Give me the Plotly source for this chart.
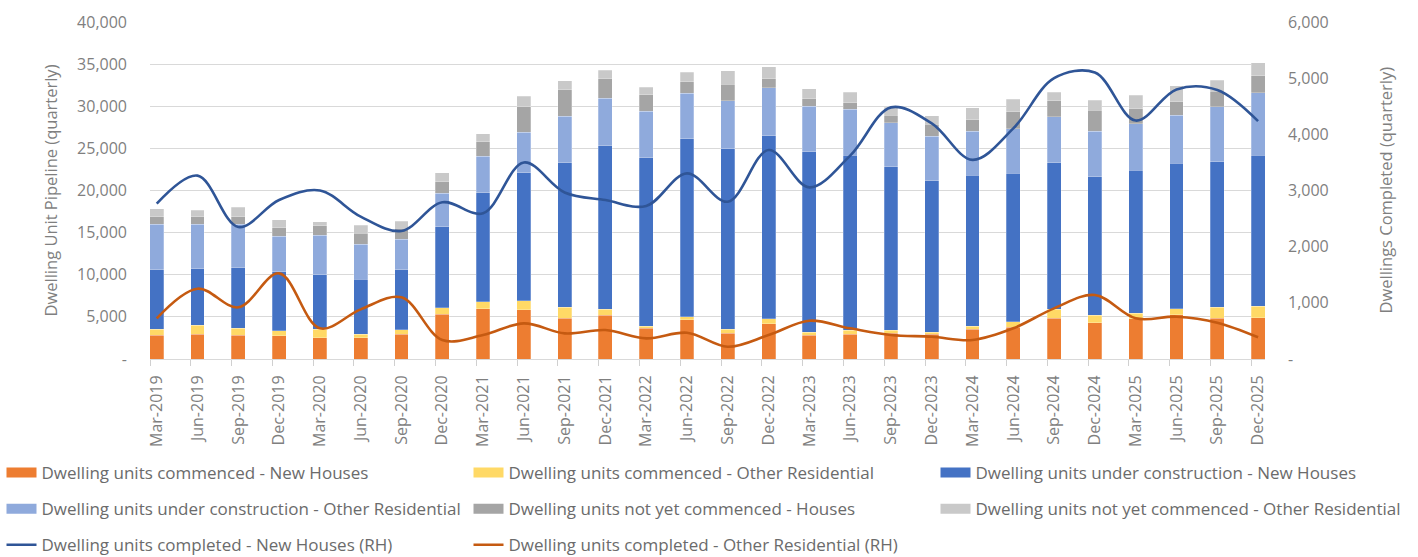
import plotly.graph_objects as go

quarters = [
    "Mar-2019", "Jun-2019", "Sep-2019", "Dec-2019",
    "Mar-2020", "Jun-2020", "Sep-2020", "Dec-2020",
    "Mar-2021", "Jun-2021", "Sep-2021", "Dec-2021",
    "Mar-2022", "Jun-2022", "Sep-2022", "Dec-2022",
    "Mar-2023", "Jun-2023", "Sep-2023", "Dec-2023",
    "Mar-2024", "Jun-2024", "Sep-2024", "Dec-2024",
    "Mar-2025", "Jun-2025", "Sep-2025", "Dec-2025",
]

# Pipeline components (left axis, stacked)
commenced_houses = [2810, 2930, 2810, 2770, 2530, 2530, 2930, 5340, 5970, 5850, 4830, 5220, 3640, 4665,
                    3045, 4190, 2815, 2930, 3050, 2930, 3520, 3760, 4865, 4275, 4750, 5260, 4830, 4905]
commenced_other = [750, 1105, 865, 590, 990, 400, 550, 750, 830, 1035, 1340, 715, 275, 360,
                   475, 560, 390, 470, 390, 235, 395, 670, 1030, 910, 670, 710, 1305, 1350]
uc_houses = [7040, 6685, 7160, 7005, 6490, 6530, 7120, 9615, 12940, 15230, 17130, 19385, 19980, 21125,
             21445, 21755, 21400, 20775, 19390, 18000, 17885, 17610, 17370, 16455, 16975, 17260, 17285, 17920]
uc_other = [5385, 5265, 5180, 4195, 4670, 4150, 3605, 3960, 4320, 4790, 5540, 5620, 5540, 5420,
            5660, 5700, 5385, 5460, 5220, 5265, 5260, 5300, 5495, 5385, 5500, 5695, 6530, 7435]
nyc_houses = [910, 910, 875, 1030, 1145, 1310, 1305, 1380, 1735, 3045, 3125, 2330, 1940, 1345,
              2015, 1065, 910, 790, 910, 1425, 1345, 2015, 1900, 2530, 1815, 1615, 1825, 2020]
nyc_other = [910, 790, 1105, 950, 475, 985, 870, 1070, 950, 1265, 1070, 995, 910, 1115,
             1580, 1425, 1185, 1230, 910, 1025, 1425, 1505, 1030, 1185, 1625, 1865, 1340, 1540]

# Completions (right axis)
completed_houses = [2765, 3265, 2350, 2830, 3000, 2535, 2280, 2790, 2595, 3500, 2965, 2830, 2725, 3305,
                    2800, 3720, 3055, 3620, 4480, 4195, 3545, 4105, 5000, 5100, 4245, 4800, 4790, 4235]
completed_other = [724, 1252, 920, 1525, 546, 884, 1098, 338, 427, 635, 457, 516, 368, 468,
                   219, 427, 682, 546, 427, 397, 338, 546, 902, 1140, 724, 753, 646, 386]

left_ticks = [0, 5000, 10000, 15000, 20000, 25000, 30000, 35000, 40000]
left_ticktext = ["-", "5,000", "10,000", "15,000", "20,000", "25,000", "30,000", "35,000", "40,000"]
right_ticks = [0, 1000, 2000, 3000, 4000, 5000, 6000]
right_ticktext = ["-", "1,000", "2,000", "3,000", "4,000", "5,000", "6,000"]

FONT = "Open Sans"
TICK_GREY = "#7f7f7f"
TEXT_GREY = "#6b6b6b"
W, H = 1418, 557

x = list(range(len(quarters)))

bar_series = [
    ("Dwelling units commenced - New Houses", commenced_houses, "#ED7D31", "legend"),
    ("Dwelling units commenced - Other Residential", commenced_other, "#FFD966", "legend2"),
    ("Dwelling units under construction - New Houses", uc_houses, "#4472C4", "legend3"),
    ("Dwelling units under construction - Other Residential", uc_other, "#8FAADC", "legend"),
    ("Dwelling units not yet commenced - Houses", nyc_houses, "#A5A5A5", "legend2"),
    ("Dwelling units not yet commenced - Other Residential", nyc_other, "#C9C9C9", "legend3"),
]
line_series = [
    ("Dwelling units completed - New Houses (RH)", completed_houses, "#2F5597", "legend"),
    ("Dwelling units completed - Other Residential (RH)", completed_other, "#C55A11", "legend2"),
]

fig = go.Figure()
for name, vals, color, leg in bar_series:
    fig.add_trace(go.Bar(
        x=x, y=vals, name=name, showlegend=False,
        marker=dict(color=color, line=dict(color="rgba(255,255,255,0.5)", width=0.5)),
        width=0.34, yaxis="y",
    ))

# Legend keys for the stacked series: wide, flat colour swatches
for name, vals, color, leg in bar_series:
    fig.add_trace(go.Scatter(
        x=[None], y=[None], name=name, legend=leg, legendgroup=name,
        mode="lines", line=dict(color=color, width=12), hoverinfo="skip",
    ))

for name, vals, color, leg in line_series:
    fig.add_trace(go.Scatter(
        x=x, y=vals, name=name, legend=leg, legendgroup=name,
        mode="lines", line=dict(color=color, width=2.6, shape="spline", smoothing=1.0),
        yaxis="y2",
    ))

legend_common = dict(
    orientation="v", traceorder="grouped", tracegroupgap=11,
    font=dict(family=FONT, size=17, color=TEXT_GREY),
    bgcolor="rgba(0,0,0,0)", xanchor="left", yanchor="top",
    xref="container", yref="container", itemwidth=30,
    itemclick=False, itemdoubleclick=False,
)
legend_top = (H - 455) / H

fig.update_layout(
    width=W, height=H,
    margin=dict(l=150, r=153, t=22, b=198, autoexpand=False),
    paper_bgcolor="white", plot_bgcolor="white",
    barmode="stack",
    font=dict(family=FONT, size=16, color=TICK_GREY),
    xaxis=dict(
        tickmode="array", tickvals=x, ticktext=quarters, tickangle=-90,
        range=[-0.165, 27.17], showgrid=False, zeroline=False, automargin=False,
        showline=True, linecolor="#d9d9d9", linewidth=1,
        ticks="", ticklabelstandoff=9,
        tickfont=dict(family=FONT, size=16, color=TICK_GREY),
        minor=dict(tickmode="linear", tick0=-0.165, dtick=1, ticks="outside",
                   ticklen=6, tickwidth=1, tickcolor="#d0d0d0", showgrid=False),
    ),
    yaxis=dict(
        range=[0, 40000], tickmode="array", tickvals=left_ticks, ticktext=left_ticktext,
        showgrid=True, gridcolor="#d9d9d9", gridwidth=1, zeroline=False, automargin=False,
        ticks="", ticklabelstandoff=22,
        tickfont=dict(family=FONT, size=16, color=TICK_GREY),
    ),
    yaxis2=dict(
        range=[0, 6000], tickmode="array", tickvals=right_ticks, ticktext=right_ticktext,
        overlaying="y", side="right", showgrid=False, zeroline=False, automargin=False,
        ticks="", ticklabelstandoff=22,
        tickfont=dict(family=FONT, size=16, color=TICK_GREY),
    ),
    legend=dict(x=1.5 / W, y=legend_top, **legend_common),
    legend2=dict(x=468.5 / W, y=legend_top, **legend_common),
    legend3=dict(x=935.5 / W, y=legend_top, **legend_common),
    showlegend=True,
)

fig.add_annotation(
    text="Dwelling Unit Pipeline (quarterly)", textangle=-90,
    xref="paper", yref="paper", x=(50 - 150) / 1115, y=0.5,
    xanchor="center", yanchor="middle", showarrow=False,
    font=dict(family=FONT, size=16.5, color=TICK_GREY),
)
fig.add_annotation(
    text="Dwellings Completed (quarterly)", textangle=-90,
    xref="paper", yref="paper", x=(1385 - 150) / 1115, y=0.5,
    xanchor="center", yanchor="middle", showarrow=False,
    font=dict(family=FONT, size=16.5, color=TICK_GREY),
)

fig.write_html("out.html")
